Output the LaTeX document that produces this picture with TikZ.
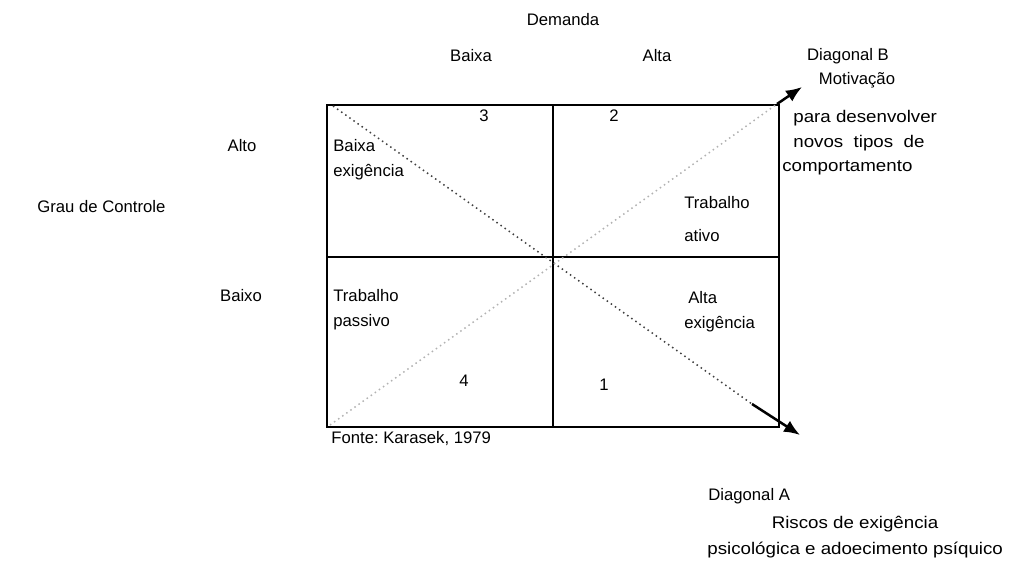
\documentclass[tikz,border=0pt]{standalone}
\usepackage{fontspec}
\setmainfont{Liberation Sans}
\newfontfamily\widesans[FakeStretch=1.11]{Liberation Sans}
\usetikzlibrary{arrows.meta}
\frenchspacing
\tikzset{
  lbl/.style={inner sep=0pt, font=\fontsize{9.5}{11}\selectfont},
  lbll/.style={lbl, anchor=west},
  lblw/.style={inner sep=0pt, font=\widesans\fontsize{9.6}{11}\selectfont},
  diag/.style={line width=0.3mm, dotted},
  tip/.style={line width=0.5mm, -{Latex[length=3.2mm,width=2.6mm]}}
}

\begin{document}
\begin{tikzpicture}[x=0.02cm, y=-0.02cm]
		%%%%% START %%%%%
		\useasboundingbox (0, 0) rectangle (1014, 563);
		
		\coordinate (tl) at (327, 105);
		\coordinate (br) at (779, 427);
		\coordinate (aS) at (333, 106);
		\coordinate (aM) at (752, 404);
		\coordinate (aE) at (800, 435);
		\coordinate (bS) at (330, 425);
		\coordinate (bM) at (777, 104);
		\coordinate (bE) at (802, 87);
		
		\draw[line width=0.3mm] (tl) rectangle (br);
		\draw[line width=0.3mm] (553, 105) -- (553, 427);
		\draw[line width=0.3mm] (327, 257) -- (779, 257);
		
		\draw[diag, color=black!75] (aS) -- (aM);
		\draw[tip, color=black] (aM) -- (aE);
		\draw[diag, color=black!30] (bS) -- (bM);
		\draw[tip, color=black] (bM) -- (bE);
		
		\node[lbl] (dem) at (563, 20) {Demanda};
		\node[lbl] (dbx) at (471, 56) {Baixa};
		\node[lbl] (dal) at (657, 56) {Alta};
		\node[lbl] (dgb) at (848, 56) {Diagonal B};
		\node[lbl] (mot) at (857, 80) {Motivação};
		\node[lblw, anchor=west] (mt1) at (793, 118) {para desenvolver};
		\node[lblw, anchor=west] (mt2) at (793, 143) {novos\ \ tipos\ \ de};
		\node[lblw, anchor=west] (mt3) at (782, 168) {comportamento};
		
		\node[lbl] (n3) at (484, 116) {3};
		\node[lbl] (n2) at (614, 116) {2};
		\node[lbl] (n4) at (464, 381) {4};
		\node[lbl] (n1) at (604, 385) {1};
		
		\node[lbl] (alto) at (242, 146) {Alto};
		\node[lbl] (baixo) at (241, 296) {Baixo};
		\node[lbll] (grau) at (37, 207) {Grau de Controle};
		
		\node[lbll] (bx1) at (333, 146) {Baixa};
		\node[lbll] (bx2) at (333, 172) {exigência};
		\node[lbll] (ta1) at (684, 203) {Trabalho};
		\node[lbll] (ta2) at (684, 236) {ativo};
		\node[lbll] (tp1) at (333, 296) {Trabalho};
		\node[lbll] (tp2) at (333, 322) {passivo};
		\node[lbll] (ae1) at (688, 298) {Alta};
		\node[lbll] (ae2) at (684, 324) {exigência};
		
		\node[lbll] (fonte) at (331, 439) {Fonte: Karasek, 1979};
		
		\node[lbll] (dga) at (708, 496) {Diagonal A};
		\node[lblw] (ri1) at (855, 524) {Riscos de exigência};
		\node[lblw, anchor=west] (ri2) at (707, 550) {psicológica e adoecimento psíquico};
		%%%%% END %%%%%
	\end{tikzpicture}
\end{document}
